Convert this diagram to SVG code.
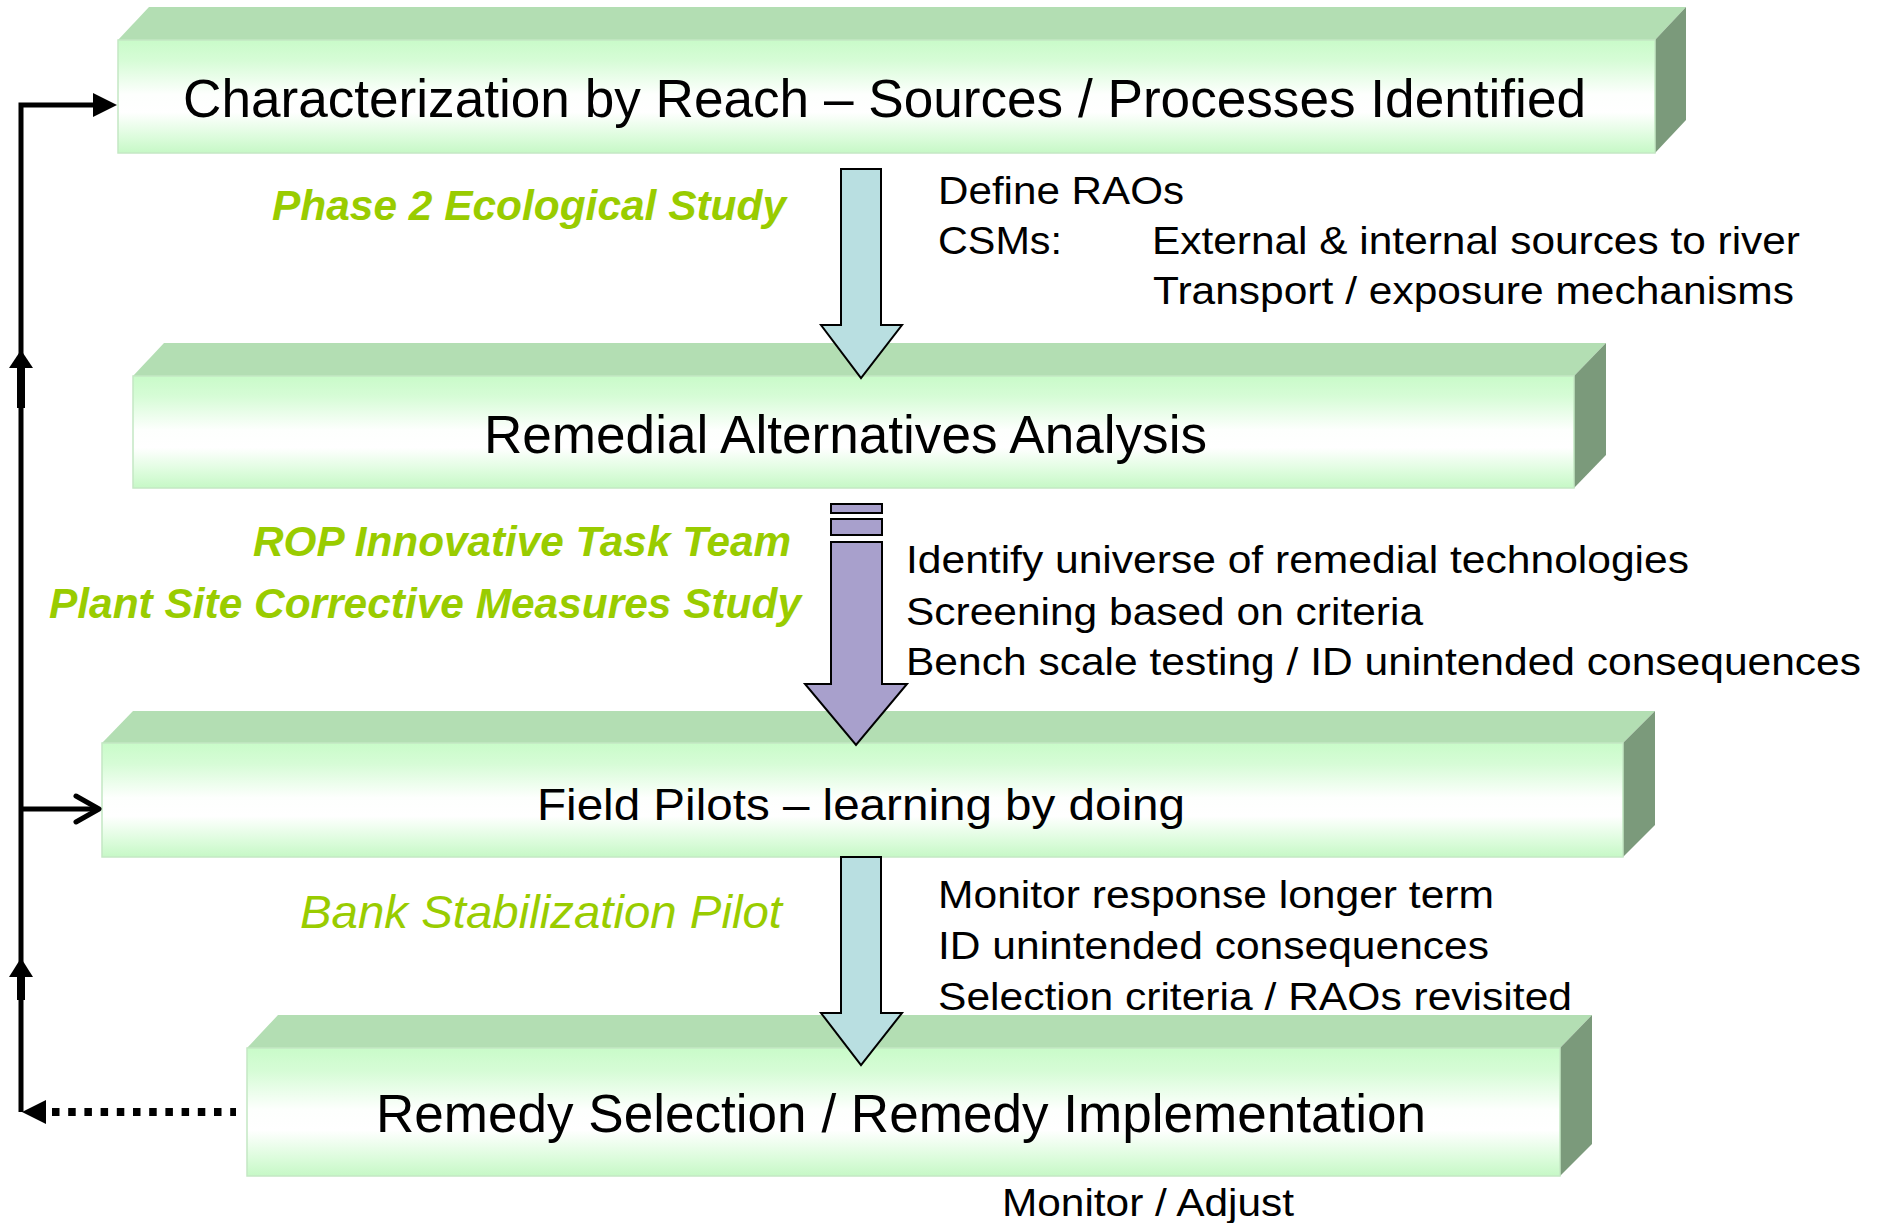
<svg xmlns="http://www.w3.org/2000/svg" width="1884" height="1223" viewBox="0 0 1884 1223">
  <style>
    text { font-family: "Liberation Sans", Arial, sans-serif; fill: #000; }
    .title { font-size: 53px; }
    .title-sm { font-size: 45px; }
    .note { font-size: 38px; }
    .team { font-size: 42px; font-weight: bold; font-style: italic; fill: #99cc00; }
    .pilot { font-size: 46px; font-style: italic; fill: #99cc00; }
    .top { fill: #b3deb3; }
    .side { fill: #7b9a7b; }
    .front { fill: url(#frontFade); stroke: #c4e8c4; stroke-width: 1.5; }
    .blue { fill: #b9dfe1; stroke: #000; stroke-width: 2; }
    .purple { fill: #a8a0cc; stroke: #000; stroke-width: 2; }
    .loop { fill: none; stroke: #000; stroke-width: 5; }
  </style>
  <defs>
    <linearGradient id="frontFade" x1="0" y1="0" x2="0" y2="1">
      <stop offset="0" stop-color="#c9fbc9"/>
      <stop offset="0.18" stop-color="#d6fcd6"/>
      <stop offset="0.48" stop-color="#fdfffd"/>
      <stop offset="0.64" stop-color="#ffffff"/>
      <stop offset="0.86" stop-color="#dcfcdc"/>
      <stop offset="1" stop-color="#c6f8c6"/>
    </linearGradient>
  </defs>

  <rect width="1884" height="1223" fill="#fff"/>

  <!-- stage blocks -->
  <g id="characterization">
    <polygon class="top" points="118,40 149,7 1686,7 1655,40"/>
    <polygon class="side" points="1655,40 1686,7 1686,120 1655,153"/>
    <rect class="front" x="118" y="40" width="1537" height="113"/>
    <text class="title" x="183" y="117" textLength="1403" lengthAdjust="spacingAndGlyphs">Characterization by Reach – Sources / Processes Identified</text>
  </g>

  <g id="alternatives">
    <polygon class="top" points="133,376 164,343 1606,343 1574,376"/>
    <polygon class="side" points="1574,376 1606,343 1606,455 1574,488"/>
    <rect class="front" x="133" y="376" width="1441" height="112"/>
    <text class="title" x="484" y="453" textLength="723" lengthAdjust="spacingAndGlyphs">Remedial Alternatives Analysis</text>
  </g>

  <g id="field-pilots">
    <polygon class="top" points="102,743 133,711 1655,711 1623,743"/>
    <polygon class="side" points="1623,743 1655,711 1655,825 1623,857"/>
    <rect class="front" x="102" y="743" width="1521" height="114"/>
    <text class="title-sm" x="537" y="820" textLength="648" lengthAdjust="spacingAndGlyphs">Field Pilots – learning by doing</text>
  </g>

  <g id="remedy">
    <polygon class="top" points="247,1048 278,1015 1592,1015 1560,1048"/>
    <polygon class="side" points="1560,1048 1592,1015 1592,1144 1560,1176"/>
    <rect class="front" x="247" y="1048" width="1313" height="128"/>
    <text class="title" x="376" y="1132" textLength="1050" lengthAdjust="spacingAndGlyphs">Remedy Selection / Remedy Implementation</text>
  </g>

  <!-- connectors -->
  <g id="connectors">
    <!-- block arrows between stages -->
    <polygon class="blue" points="841,169 881,169 881,325 902,325 861,378 821,325 841,325"/>
    <rect class="purple" x="831" y="504" width="51" height="9"/>
    <rect class="purple" x="831" y="519" width="51" height="16"/>
    <polygon class="purple" points="831,542 882,542 882,684 907,684 856,745 805,684 831,684"/>
    <polygon class="blue" points="841,857 881,857 881,1013 902,1013 861,1065 821,1013 841,1013"/>

    <!-- feedback loop on the left -->
    <polyline class="loop" points="21,1112 21,105 95,105"/>
    <polygon points="93,93 117,105 93,117" fill="#000"/>
    <polygon points="9,368 33,368 21,350" fill="#000"/>
    <rect x="17" y="366" width="8" height="42" fill="#000"/>
    <polygon points="9,977 33,977 21,958" fill="#000"/>
    <rect x="17" y="975" width="8" height="25" fill="#000"/>
    <line class="loop" x1="21" y1="809" x2="98" y2="809"/>
    <polyline class="loop" points="76,796 99,809 76,822" stroke-linecap="round" stroke-linejoin="round"/>
    <line x1="52" y1="1112" x2="236" y2="1112" stroke="#000" stroke-width="8" stroke-dasharray="7.5 8.7"/>
    <polygon points="22,1112 46,1100 46,1124" fill="#000"/>
  </g>

  <!-- activity labels -->
  <g id="labels-green">
    <text class="team" x="272" y="220" textLength="514" lengthAdjust="spacingAndGlyphs">Phase 2 Ecological Study</text>
    <text class="team" x="253" y="556" textLength="538" lengthAdjust="spacingAndGlyphs">ROP Innovative Task Team</text>
    <text class="team" x="49" y="618" textLength="752" lengthAdjust="spacingAndGlyphs">Plant Site Corrective Measures Study</text>
    <text class="pilot" x="300" y="928" textLength="482" lengthAdjust="spacingAndGlyphs">Bank Stabilization Pilot</text>
  </g>

  <g id="notes-characterization">
    <text class="note" x="938" y="204" textLength="246" lengthAdjust="spacingAndGlyphs">Define RAOs</text>
    <text class="note" x="938" y="254" textLength="124" lengthAdjust="spacingAndGlyphs">CSMs:</text>
    <text class="note" x="1152" y="254" textLength="648" lengthAdjust="spacingAndGlyphs">External &amp; internal sources to river</text>
    <text class="note" x="1153" y="304" textLength="641" lengthAdjust="spacingAndGlyphs">Transport / exposure mechanisms</text>
  </g>

  <g id="notes-alternatives">
    <text class="note" x="906" y="573" textLength="783" lengthAdjust="spacingAndGlyphs">Identify universe of remedial technologies</text>
    <text class="note" x="906" y="625" textLength="517" lengthAdjust="spacingAndGlyphs">Screening based on criteria</text>
    <text class="note" x="906" y="675" textLength="955" lengthAdjust="spacingAndGlyphs">Bench scale testing / ID unintended consequences</text>
  </g>

  <g id="notes-pilots">
    <text class="note" x="938" y="908" textLength="556" lengthAdjust="spacingAndGlyphs">Monitor response longer term</text>
    <text class="note" x="938" y="959" textLength="551" lengthAdjust="spacingAndGlyphs">ID unintended consequences</text>
    <text class="note" x="938" y="1010" textLength="634" lengthAdjust="spacingAndGlyphs">Selection criteria / RAOs revisited</text>
  </g>

  <g id="notes-remedy">
    <text class="note" x="1002" y="1216" textLength="292" lengthAdjust="spacingAndGlyphs">Monitor / Adjust</text>
  </g>
</svg>
